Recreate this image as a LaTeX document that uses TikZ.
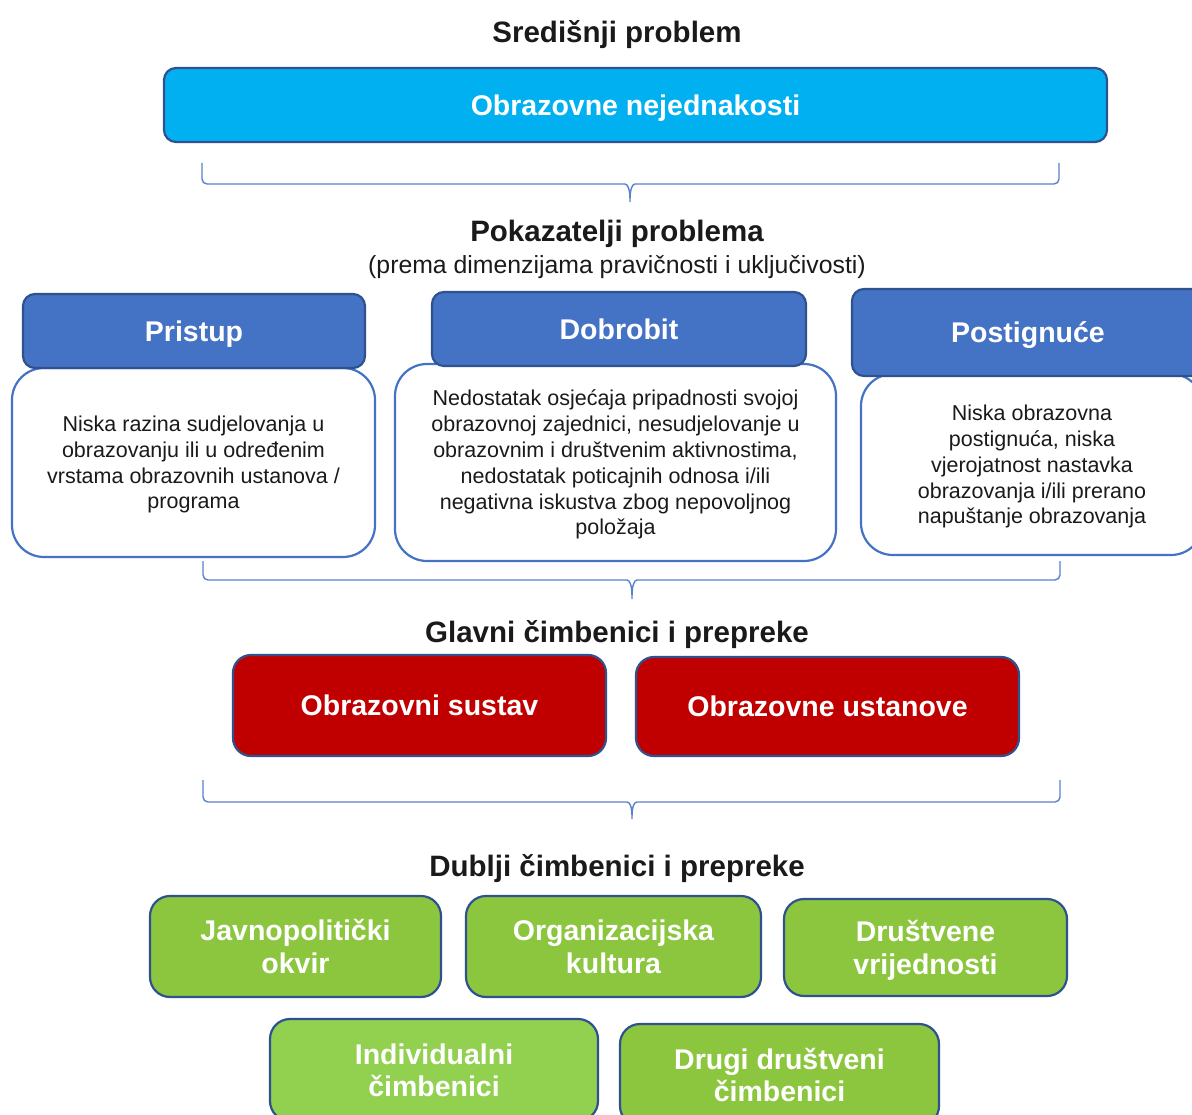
\documentclass[tikz,border=0pt]{standalone}
\usepackage{fontspec}
\setmainfont{Liberation Sans}
\usetikzlibrary{positioning}
\definecolor{ink}{HTML}{1A1A1A}
\definecolor{edge}{HTML}{2F528F}
\definecolor{probcyan}{HTML}{00B0F0}
\definecolor{hdrblue}{HTML}{4472C4}
\definecolor{bracecol}{HTML}{5B80CC}
\definecolor{barred}{HTML}{C00000}
\definecolor{deepgreen}{HTML}{8CC63F}
\definecolor{lightgreen}{HTML}{92D050}

\begin{document}
\begin{tikzpicture}[
    x=1pt, y=-1pt,
    every node/.style={inner sep=0pt, text depth=0pt},
    ttl/.style={font=\fontsize{29.5}{34}\selectfont\bfseries, text=ink},
    box/.style={draw=edge, line width=2.2pt, text=white, align=center, font=\fontsize{28.5}{32.5}\selectfont\bfseries},
    hdr/.style={box, fill=hdrblue, rounded corners=12pt},
    desc/.style={draw=hdrblue, line width=2.2pt, fill=white, rounded corners=32pt, align=center, text=ink, font=\fontsize{21.5}{25.8}\selectfont},
    bar/.style={box, fill=barred, rounded corners=18pt},
    deep/.style={box, fill=deepgreen, rounded corners=20pt},
    brace/.style={draw=bracecol, line width=1.4pt, rounded corners=5pt},
  ]
    \useasboundingbox[fill=white] (0,0) rectangle (1192,1115);

    % central problem
    \node[ttl] (central) at (617,31) {Središnji problem};
    \node[box, fill=probcyan, rounded corners=12pt, minimum width=943pt, minimum height=74pt] (ineq) at (635.5,105) {Obrazovne nejednakosti};
    \draw[brace] (202,163) -- (202,184) -- (620,184) .. controls (628,184) and (630,190) .. (630,205)
      .. controls (630,190) and (632,184) .. (640,184) -- (1059,184) -- (1059,163);

    % indicators
    \node[ttl] (indic) at (617,231) {Pokazatelji problema};
    \node[text=ink, font=\fontsize{24.8}{28}\selectfont, below=13.5pt of indic] (dims) {(prema dimenzijama pravičnosti i uključivosti)};

    \node[desc, minimum width=363pt, minimum height=189pt] (accbody) at (193.5,462.5)
      {Niska razina sudjelovanja u\\obrazovanju ili u određenim\\vrstama obrazovnih ustanova /\\programa};
    \node[hdr, minimum width=342pt, minimum height=74pt] (access) at (194,331) {Pristup};

    \node[desc, minimum width=441pt, minimum height=197pt] (welbody) at (615.5,462.5)
      {Nedostatak osjećaja pripadnosti svojoj\\obrazovnoj zajednici, nesudjelovanje u\\obrazovnim i društvenim aktivnostima,\\nedostatak poticajnih odnosa i/ili\\negativna iskustva zbog nepovoljnog\\položaja};
    \node[hdr, minimum width=374pt, minimum height=74pt] (welfare) at (619,329) {Dobrobit};

    \node[desc, minimum width=342pt, minimum height=181pt] (achbody) at (1032,464.5)
      {Niska obrazovna\\postignuća, niska\\vjerojatnost nastavka\\obrazovanja i/ili prerano\\napuštanje obrazovanja};
    \node[hdr, minimum width=352pt, minimum height=87pt] (achieve) at (1028,332.5) {Postignuće};

    \draw[brace] (203,561) -- (203,580) -- (622,580) .. controls (630,580) and (632,586) .. (632,602)
      .. controls (632,586) and (634,580) .. (642,580) -- (1060,580) -- (1060,561);

    % main factors
    \node[ttl] (mainf) at (617,631) {Glavni čimbenici i prepreke};
    \node[bar, minimum width=373pt, minimum height=101pt] (system) at (419.5,705.5) {Obrazovni sustav};
    \node[bar, minimum width=383pt, minimum height=99pt] (inst) at (827.5,706.5) {Obrazovne ustanove};

    \draw[brace] (203,780) -- (203,802) -- (622,802) .. controls (630,802) and (632,807) .. (632,822)
      .. controls (632,807) and (634,802) .. (642,802) -- (1060,802) -- (1060,780);

    % deeper factors
    \node[ttl] (deepf) at (617,865) {Dublji čimbenici i prepreke};
    \node[deep, minimum width=291pt, minimum height=101pt] (policy) at (295.5,946.5) {Javnopolitički\\okvir};
    \node[deep, minimum width=295pt, minimum height=101pt] (culture) at (613.5,946.5) {Organizacijska\\kultura};
    \node[deep, minimum width=283pt, minimum height=97pt] (values) at (925.5,947.5) {Društvene\\vrijednosti};
    \node[deep, fill=lightgreen, minimum width=328pt, minimum height=102pt] (indiv) at (434,1070) {Individualni\\čimbenici};
    \node[deep, minimum width=319pt, minimum height=102pt] (social) at (779.5,1075) {Drugi društveni\\čimbenici};
  \end{tikzpicture}
\end{document}
